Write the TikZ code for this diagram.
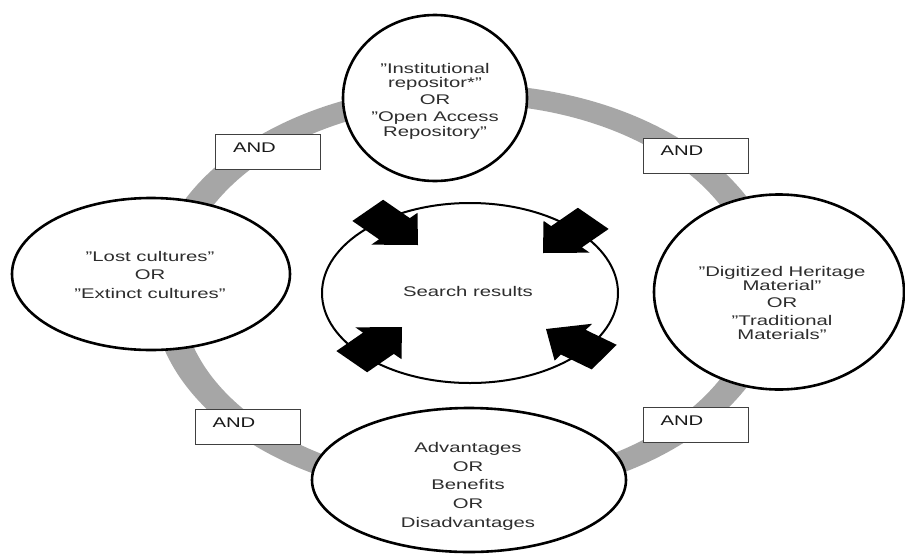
\documentclass[tikz,border=0pt]{standalone}
\usepackage{fontspec}
\setmainfont{Liberation Sans}
\usetikzlibrary{shapes.geometric}
\definecolor{ringgray}{RGB}{166,166,166}
\definecolor{txtcol}{RGB}{45,45,45}
\newcommand{\stretchtab}[1]{\scalebox{1.45}[1]{\begin{tabular}{@{}c@{}}#1\end{tabular}}}
\newcommand{\sx}[1]{\scalebox{1.45}[1]{#1}}
\begin{document}
\begin{tikzpicture}[x=1pt,y=-1pt,
  oval/.style={ellipse, draw=black, line width=2.6pt, fill=white, inner sep=0pt},
  midoval/.style={ellipse, draw=black, line width=2pt, fill=white, inner sep=0pt},
  txtnode/.style={align=center, font=\fontsize{14}{14}\selectfont, text=txtcol, inner sep=0pt},
  andbox/.style={draw=black!75, line width=1pt, fill=white, minimum width=105pt,
     minimum height=35pt, text width=70pt, inner xsep=17.5pt, inner ysep=0pt,
     align=left, text depth=9pt, font=\fontsize{14}{14}\selectfont, text=black!90},
  ring/.style={draw=ringgray, line width=20pt},
  blockarrow/.pic={\fill[black] (0,0) -- (-23,22.5) -- (-23,15) -- (-49,15)
     -- (-49,-15) -- (-23,-15) -- (-23,-22.5) -- cycle;}
]
\fill[white] (0,0) rectangle (905,555);
\useasboundingbox (0,0) rectangle (905,555);

% grey ring: a circle-like band, stretched horizontally like the rest of the picture
\begin{scope}[transform canvas={xscale=1.45}]
\draw[ring] (322,292) ellipse [x radius=207, y radius=198];
\end{scope}

% outer ellipses
\node[oval, minimum width=184pt, minimum height=166pt] (top) at (435,98) {};
\node[oval, minimum width=250pt, minimum height=195pt] (right) at (779,292) {};
\node[oval, minimum width=278pt, minimum height=152pt] (left) at (151,274) {};
\node[oval, minimum width=314pt, minimum height=144pt] (bottom) at (469,480) {};

% AND boxes
\node[andbox] (and1) at (268,152) {\sx{AND}};
\node[andbox] (and2) at (695.5,155.5) {\sx{AND}};
\node[andbox] (and3) at (247.5,427) {\sx{AND}};
\node[andbox] (and4) at (695.5,425) {\sx{AND}};

% centre ellipse
\node[midoval, minimum width=296pt, minimum height=180pt] (centre) at (470,293) {};

% block arrows
\pic[xscale=1.45, rotate=-45] at (418,245) {blockarrow};
\pic[xscale=1.45, rotate=-135] at (543,253) {blockarrow};
\pic[xscale=1.45, rotate=45] at (402,327) {blockarrow};
\pic[xscale=1.45, rotate=145] at (546,329) {blockarrow};

% texts
\node[txtnode] (topT) at (435,102) {\stretchtab{"Institutional\\repositor*"\\[3pt]OR\\[3pt]"Open Access\\Repository"}};
\node[txtnode] (rightT) at (782,305) {\stretchtab{"Digitized Heritage\\Material"\\[3pt]OR\\[3pt]"Traditional\\Materials"}};
\node[txtnode] (leftT) at (150,277) {\stretchtab{"Lost cultures"\\[4pt]OR\\[4pt]"Extinct cultures"}};
\node[txtnode] (bottomT) at (468,487) {\stretchtab{Advantages\\[4.5pt]OR\\[4.5pt]Benefits\\[4.5pt]OR\\[4.5pt]Disadvantages}};
\node[txtnode] (centreT) at (468,294) {\stretchtab{Search results}};
\end{tikzpicture}
\end{document}
